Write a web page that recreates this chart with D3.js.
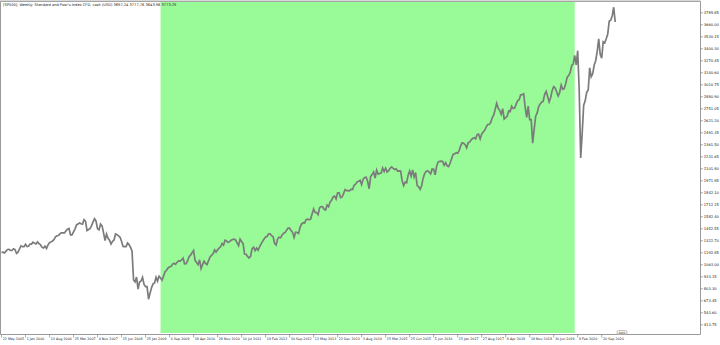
<!DOCTYPE html>
<html>
<head>
<meta charset="utf-8">
<script src="https://cdn.jsdelivr.net/npm/d3@7"></script>
<style>
  body { margin: 0; background: #fff; }
  svg { display: block; }
  text { font-family: "DejaVu Sans", sans-serif; fill: #222; }
</style>
</head>
<body>
<svg width="720" height="345"></svg>
<script>
const svg = d3.select("svg");
const width = +svg.attr("width");
const height = +svg.attr("height");

// chart frame (price scale on the right, time scale at the bottom)
const frame = { left: 0.5, top: 1.5, right: 700.5, bottom: 334.5 };

const title = "[SP500], Weekly:  Standard and Poor's Index CFD, cash (USD)  3697.24 3777.76 3643.96 3773.29";

// first bar of the chart, one value every two weeks
const startDate = "22 May 2005";
const stepDays = 14;

const closes = [
  1198, 1200, 1191, 1211, 1229, 1230, 1219, 1218, 1237, 1228, 1186, 1199, 1234, 1268, 1259, 1259,
  1285, 1261, 1264, 1287, 1287, 1307, 1295, 1289, 1311, 1291, 1280, 1252, 1245, 1265, 1240, 1279,
  1302, 1311, 1321, 1336, 1366, 1377, 1380, 1400, 1409, 1410, 1409, 1431, 1448, 1456, 1387, 1386,
  1420, 1452, 1495, 1505, 1515, 1507, 1502, 1552, 1534, 1433, 1445, 1454, 1484, 1527, 1561, 1535,
  1453, 1441, 1504, 1484, 1411, 1325, 1395, 1349, 1330, 1288, 1316, 1332, 1397, 1389, 1375, 1361,
  1318, 1262, 1260, 1260, 1298, 1282, 1252, 1213, 899, 877, 930, 800, 876, 887, 927, 850,
  826, 827, 690, 756, 816, 857, 866, 929, 887, 940, 921, 896, 940, 987, 1004, 1029,
  1042, 1044, 1071, 1080, 1069, 1091, 1106, 1102, 1115, 1136, 1074, 1075, 1105, 1150, 1167, 1194,
  1217, 1110, 1087, 1064, 1117, 1022, 1065, 1102, 1079, 1065, 1109, 1148, 1165, 1183, 1225, 1199,
  1225, 1244, 1258, 1293, 1276, 1329, 1321, 1304, 1314, 1328, 1337, 1340, 1333, 1300, 1271, 1340,
  1316, 1292, 1179, 1177, 1154, 1136, 1155, 1238, 1253, 1216, 1244, 1220, 1258, 1289, 1316, 1342,
  1365, 1370, 1397, 1398, 1378, 1369, 1295, 1278, 1342, 1362, 1356, 1385, 1405, 1411, 1438, 1460,
  1461, 1433, 1414, 1359, 1416, 1413, 1402, 1472, 1503, 1518, 1515, 1551, 1557, 1553, 1555, 1614,
  1667, 1631, 1626, 1606, 1681, 1692, 1691, 1664, 1655, 1710, 1691, 1744, 1761, 1798, 1806, 1775,
  1841, 1842, 1790, 1797, 1836, 1878, 1866, 1865, 1864, 1881, 1877, 1924, 1936, 1960, 1968, 1978,
  1931, 1988, 2007, 2010, 1967, 1886, 2018, 2039, 2068, 2002, 2088, 2044, 2051, 2055, 2110, 2071,
  2108, 2067, 2081, 2108, 2122, 2107, 2094, 2101, 2076, 2079, 2077, 1971, 1921, 1958, 1951, 2033,
  2079, 2023, 2090, 2012, 2061, 1922, 1907, 1880, 1918, 2000, 2050, 2073, 2081, 2065, 2047, 2099,
  2096, 2037, 2130, 2175, 2183, 2184, 2180, 2139, 2168, 2133, 2126, 2164, 2213, 2259, 2263, 2277,
  2271, 2297, 2351, 2383, 2378, 2363, 2329, 2384, 2390, 2415, 2431, 2438, 2425, 2473, 2476, 2425,
  2477, 2500, 2519, 2553, 2581, 2582, 2602, 2652, 2683, 2743, 2810, 2762, 2732, 2691, 2752, 2641,
  2656, 2670, 2728, 2721, 2779, 2755, 2759, 2802, 2840, 2850, 2902, 2905, 2914, 2767, 2659, 2781,
  2633, 2633, 2380, 2532, 2671, 2707, 2776, 2804, 2822, 2834, 2907, 2940, 2881, 2826, 2873, 2950,
  2990, 2977, 2932, 2889, 2927, 3007, 2962, 2970, 3023, 3093, 3111, 3145, 3221, 3235, 3330, 3225,
  3380, 2954, 2220, 2489, 2790, 2837, 2930, 2955, 3194, 3098, 3130, 3225, 3271, 3373, 3508, 3341,
  3298, 3477, 3465, 3509, 3558, 3699, 3709, 3756, 3850, 3690
];

// highlighted period
const zoneStart = "14 Jun 2009";
const zoneEnd = "12 Jan 2020";

const priceTicks = [
  "413.75", "543.60", "673.45", "803.30", "933.15", "1063.00", "1192.85", "1322.70", "1452.55",
  "1582.40", "1712.25", "1842.10", "1971.95", "2101.80", "2231.65", "2361.50", "2491.35", "2621.20",
  "2751.05", "2880.90", "3010.75", "3140.60", "3270.45", "3400.30", "3530.15", "3660.00", "3789.85"
];

const dateTicks = [
  "22 May 2005", "1 Jan 2006", "13 Aug 2006", "25 Mar 2007", "4 Nov 2007", "15 Jun 2008",
  "25 Jan 2009", "6 Sep 2009", "18 Apr 2010", "28 Nov 2010", "10 Jul 2011", "19 Feb 2012",
  "30 Sep 2012", "12 May 2013", "22 Dec 2013", "3 Aug 2014", "15 Mar 2015", "25 Oct 2015",
  "5 Jun 2016", "15 Jan 2017", "27 Aug 2017", "8 Apr 2018", "18 Nov 2018", "30 Jun 2019",
  "9 Feb 2020", "20 Sep 2020"
];

const parse = d3.timeParse("%d %b %Y");
const t0 = parse(startDate);
const series = closes.map((v, i) => ({ date: d3.timeDay.offset(t0, i * stepDays), value: v }));

const x = d3.scaleTime()
  .domain([parse(dateTicks[0]), parse(dateTicks[dateTicks.length - 1])])
  .range([1.5, 601.7]);
const y = d3.scaleLinear()
  .domain([+priceTicks[0], +priceTicks[priceTicks.length - 1]])
  .range([324.8, 12.8]);

// green zone
svg.append("rect")
  .attr("x", x(parse(zoneStart)))
  .attr("y", frame.top + 0.5)
  .attr("width", x(parse(zoneEnd)) - x(parse(zoneStart)))
  .attr("height", 333 - frame.top - 0.5)
  .attr("fill", "#98fb98");

// price line
const line = d3.line()
  .x(d => x(d.date))
  .y(d => y(d.value));

svg.append("path")
  .datum(series)
  .attr("d", line)
  .attr("fill", "none")
  .attr("stroke", "#7b7b7b")
  .attr("stroke-width", 1.7)
  .attr("stroke-linejoin", "miter");

// frame
svg.append("path")
  .attr("d", `M${frame.left},${frame.bottom}V${frame.top}H${frame.right}V${frame.bottom}H${frame.left}`)
  .attr("fill", "none")
  .attr("stroke", "#9a9a9a")
  .attr("stroke-width", 1);
svg.append("line")
  .attr("x1", 0).attr("x2", frame.right)
  .attr("y1", 1).attr("y2", 1)
  .attr("stroke", "#b0b0b0");

// right price scale
const yAxis = svg.append("g").attr("font-size", 3.7);
priceTicks.forEach(t => {
  const py = y(+t);
  yAxis.append("line")
    .attr("x1", frame.right).attr("x2", frame.right + 2.5)
    .attr("y1", py).attr("y2", py)
    .attr("stroke", "#777").attr("stroke-width", 0.6);
  yAxis.append("text")
    .attr("x", frame.right + 3.2)
    .attr("y", py)
    .attr("dy", "0.35em")
    .text(t);
});

// bottom time scale
const xAxis = svg.append("g").attr("font-size", 3.3);
dateTicks.forEach(t => {
  const px = x(parse(t));
  xAxis.append("line")
    .attr("x1", px).attr("x2", px)
    .attr("y1", frame.bottom).attr("y2", frame.bottom + 3)
    .attr("stroke", "#777").attr("stroke-width", 0.6);
  xAxis.append("text")
    .attr("x", px + 1.2)
    .attr("y", frame.bottom + 5.6)
    .text(t);
});

// small marker box near the last bar
const box = svg.append("g");
box.append("rect")
  .attr("x", 617).attr("y", 330.5)
  .attr("width", 10).attr("height", 4)
  .attr("rx", 1.5)
  .attr("fill", "#f4f4f4")
  .attr("stroke", "#888").attr("stroke-width", 0.5);
box.append("text")
  .attr("x", 622).attr("y", 332.6)
  .attr("dy", "0.35em")
  .attr("text-anchor", "middle")
  .attr("font-size", 2.8)
  .text("2021");

// title
svg.append("text")
  .attr("x", 3)
  .attr("y", 5.6)
  .attr("font-size", 3.6)
  .text(title);
</script>
</body>
</html>
